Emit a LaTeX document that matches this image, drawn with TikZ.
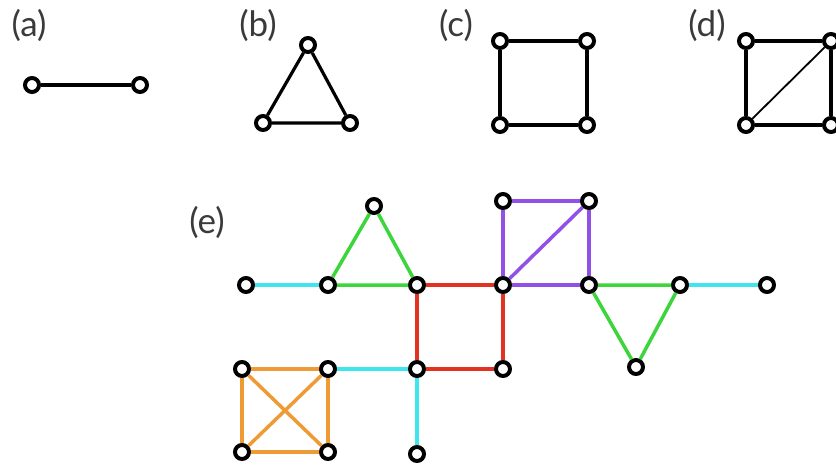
\documentclass[tikz,border=0pt]{standalone}
\usepackage{fontspec}
\setmainfont{Lato}
\definecolor{ccyan}{HTML}{40E6EE}
\definecolor{cgreen}{HTML}{3CD63C}
\definecolor{cred}{HTML}{E23222}
\definecolor{cpurple}{HTML}{9150E6}
\definecolor{corange}{HTML}{EE9A35}
\definecolor{ctext}{HTML}{3A3A3A}
\begin{document}
\begin{tikzpicture}[x=1pt,y=-1pt,
  vtx/.style={circle,draw=black,fill=white,line width=4pt,inner sep=0pt,minimum size=14pt},
  lbl/.style={text=ctext,font=\fontsize{35}{38}\selectfont,inner sep=0pt},
  bk/.style={draw=black,line width=3.2pt},
  thin/.style={draw=black,line width=1.8pt},
  ecy/.style={draw=ccyan,line width=3.5pt},
  egr/.style={draw=cgreen,line width=3.5pt},
  ere/.style={draw=cred,line width=3.5pt},
  epu/.style={draw=cpurple,line width=3.5pt},
  eor/.style={draw=corange,line width=3.5pt}]
\useasboundingbox (0,0) rectangle (836,466);
% labels
\node[lbl] (la) at (29,25) {(a)};
\node[lbl] (lb) at (258,25) {(b)};
\node[lbl] (lc) at (456,25) {(c)};
\node[lbl] (ld) at (707,25) {(d)};
\node[lbl] (le) at (207,222) {(e)};
% (a)
\node[vtx] (a1) at (32,85) {};
\node[vtx] (a2) at (140,85) {};
\draw[bk] (a1) -- (a2);
% (b)
\node[vtx] (b1) at (308,45) {};
\node[vtx] (b2) at (263,123) {};
\node[vtx] (b3) at (350,123) {};
\draw[bk] (b1) -- (b2) -- (b3) -- (b1);
% (c)
\node[vtx] (c1) at (500,41) {};
\node[vtx] (c2) at (587,41) {};
\node[vtx] (c3) at (587,125) {};
\node[vtx] (c4) at (500,125) {};
\draw[bk] (c1) -- (c2) -- (c3) -- (c4) -- (c1);
% (d)
\node[vtx] (d1) at (746,41) {};
\node[vtx] (d2) at (831,41) {};
\node[vtx] (d3) at (831,125) {};
\node[vtx] (d4) at (746,125) {};
\draw[bk] (d1) -- (d2) -- (d3) -- (d4) -- (d1);
\draw[thin] (d4) -- (d2);
% (e)
\node[vtx] (e1) at (246,285) {};
\node[vtx] (t1) at (328,285) {};
\node[vtx] (tt) at (374,206) {};
\node[vtx] (t2) at (417,285) {};
\node[vtx] (p1) at (503,285) {};
\node[vtx] (p2) at (503,201) {};
\node[vtx] (p3) at (589,201) {};
\node[vtx] (p4) at (589,285) {};
\node[vtx] (q1) at (680,285) {};
\node[vtx] (qb) at (636,367) {};
\node[vtx] (e2) at (767,285) {};
\node[vtx] (r3) at (503,369) {};
\node[vtx] (r4) at (417,369) {};
\node[vtx] (e3) at (417,454) {};
\node[vtx] (o1) at (242,369) {};
\node[vtx] (o2) at (328,369) {};
\node[vtx] (o3) at (242,452) {};
\node[vtx] (o4) at (328,452) {};
\draw[ecy] (e1) -- (t1);
\draw[egr] (t1) -- (tt) -- (t2) -- (t1);
\draw[ere] (t2) -- (p1) -- (r3) -- (r4) -- (t2);
\draw[epu] (p1) -- (p2) -- (p3) -- (p4) -- (p1);
\draw[epu] (p1) -- (p3);
\draw[egr] (p4) -- (q1) -- (qb) -- (p4);
\draw[ecy] (q1) -- (e2);
\draw[ecy] (o2) -- (r4);
\draw[ecy] (r4) -- (e3);
\draw[eor] (o1) -- (o2) -- (o4) -- (o3) -- (o1);
\draw[eor] (o1) -- (o4);
\draw[eor] (o2) -- (o3);
\end{tikzpicture}
\end{document}
